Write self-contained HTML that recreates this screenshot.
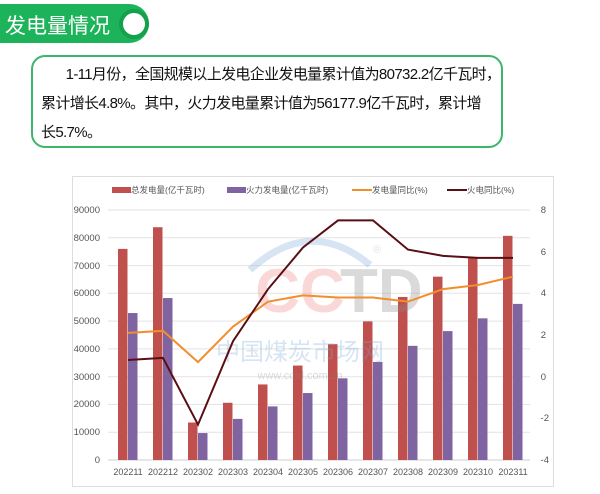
<!DOCTYPE html>
<html><head><meta charset="utf-8"><style>
body{margin:0;width:600px;height:494px;background:#fff;overflow:hidden;font-family:"Liberation Sans","Noto Sans CJK SC",sans-serif;position:relative}
.tab{position:absolute;left:0;top:4px;width:149px;height:39px;background:#1db35a;border-radius:0 20px 20px 0}
.tab span{position:absolute;left:5px;top:6px;color:#fff;font-size:21px}
.dot{position:absolute;left:119px;top:5px;width:22px;height:22px;border-radius:50%;background:#fff;border:4px solid #14a04d}
.box{position:absolute;left:31px;top:55px;width:468px;height:89px;border:2px solid #3cb66a;border-radius:14px}
.box p{margin:0;position:absolute;left:8px;top:3px;width:470px;font-size:15px;line-height:29px;color:#111;white-space:nowrap;letter-spacing:-0.65px}
.chart{position:absolute;left:72px;top:176px;width:480px;height:309px;border:1px solid #ddd}
</style></head><body>
<div class="tab"><span>发电量情况</span><div class="dot"></div></div>
<div class="box"><p>&nbsp;&nbsp;&nbsp;&nbsp;&nbsp;&nbsp;&nbsp;1-11月份，全国规模以上发电企业发电量累计值为80732.2亿千瓦时，<br>累计增长4.8%。其中，火力发电量累计值为56177.9亿千瓦时，累计增<br>长5.7%。</p></div>
<div class="chart"></div>
<svg width="600" height="494" style="position:absolute;left:0;top:0" font-family="Liberation Sans, Noto Sans CJK SC, sans-serif">
<g stroke="#e3e3e3" stroke-width="1">
<line x1="108" x2="530" y1="210" y2="210"/><line x1="108" x2="530" y1="237.8" y2="237.8"/><line x1="108" x2="530" y1="265.6" y2="265.6"/><line x1="108" x2="530" y1="293.3" y2="293.3"/><line x1="108" x2="530" y1="321.1" y2="321.1"/><line x1="108" x2="530" y1="348.9" y2="348.9"/><line x1="108" x2="530" y1="376.7" y2="376.7"/><line x1="108" x2="530" y1="404.4" y2="404.4"/><line x1="108" x2="530" y1="432.2" y2="432.2"/><line x1="108" x2="530" y1="460" y2="460" stroke="#ccc"/>
</g>
<g font-size="9.5" fill="#555" text-anchor="end">
<text x="100" y="213">90000</text><text x="100" y="241">80000</text><text x="100" y="269">70000</text><text x="100" y="296">60000</text><text x="100" y="324">50000</text><text x="100" y="352">40000</text><text x="100" y="380">30000</text><text x="100" y="407">20000</text><text x="100" y="435">10000</text><text x="100" y="463">0</text>
</g>
<g font-size="9.5" fill="#555" text-anchor="end">
<text x="546" y="213">8</text><text x="546" y="255">6</text><text x="546" y="296">4</text><text x="546" y="338">2</text><text x="546" y="380">0</text><text x="549" y="421">-2</text><text x="549" y="463">-4</text>
</g>
<g id="bars"></g>
<g font-size="9" fill="#555" text-anchor="middle" id="xl"></g>
<g opacity="0.3">
<text x="300" y="312" font-size="62" fill="#f08080" text-anchor="middle" font-weight="bold">CC</text>
<text x="340" y="312" font-size="62" fill="#888" font-weight="bold">TD</text>
<path d="M250 270 Q310 215 370 265" fill="none" stroke="#7aa7d9" stroke-width="7"/>
<text x="300" y="360" font-size="24" fill="#7aa7d9" text-anchor="middle">中国煤炭市场网</text>
<text x="300" y="379" font-size="11" fill="#888" text-anchor="middle">www.cctd.com.cn</text>
<text x="373" y="253" font-size="11" fill="#999">®</text>
</g>
<polyline id="o" fill="none" stroke="#f28e2b" stroke-width="2"/>
<polyline id="d" fill="none" stroke="#5a0f14" stroke-width="2"/>
<g font-size="8.5" fill="#555">
<rect x="112" y="187" width="19" height="6" fill="#c0504d"/><text x="131" y="193">总发电量(亿千瓦时)</text>
<rect x="227" y="187" width="19" height="6" fill="#8064a2"/><text x="246" y="193">火力发电量(亿千瓦时)</text>
<line x1="352" x2="372" y1="190" y2="190" stroke="#f28e2b" stroke-width="2"/><text x="372" y="193">发电量同比(%)</text>
<line x1="447" x2="467" y1="190" y2="190" stroke="#5a0f14" stroke-width="2"/><text x="467" y="193">火电同比(%)</text>
</g>
</svg>
<script>
var T=[76000,83800,13500,20600,27200,34000,41700,49900,58700,66000,73000,80700];
var F=[52900,58300,9700,14800,19300,24100,29400,35300,41100,46400,51000,56200];
var O=[2.1,2.2,0.7,2.4,3.6,3.9,3.8,3.8,3.6,4.2,4.4,4.8];
var D=[0.8,0.9,-2.3,1.7,4.2,6.2,7.5,7.5,6.1,5.8,5.7,5.7];
var ns="http://www.w3.org/2000/svg",b=document.getElementById('bars'),xl=document.getElementById('xl');
var L=["202211","202212","202302","202303","202304","202305","202306","202307","202308","202309","202310","202311"];
var po=[],pd=[];
function Y(v){return 460-v*250/90000}function P(v){return 460-(v+4)*250/12}
for(var i=0;i<12;i++){var c=128+35*i;
[[T[i],c-10,"#c0504d"],[F[i],c,"#8064a2"]].forEach(function(a){var r=document.createElementNS(ns,'rect');r.setAttribute('x',a[1]);r.setAttribute('width',9.5);r.setAttribute('y',Y(a[0]));r.setAttribute('height',460-Y(a[0]));r.setAttribute('fill',a[2]);b.appendChild(r);});
var t=document.createElementNS(ns,'text');t.setAttribute('x',c);t.setAttribute('y',475);t.textContent=L[i];xl.appendChild(t);
po.push(c+','+P(O[i]));pd.push(c+','+P(D[i]));}
document.getElementById('o').setAttribute('points',po.join(' '));
document.getElementById('d').setAttribute('points',pd.join(' '));
</script>
</body></html>
